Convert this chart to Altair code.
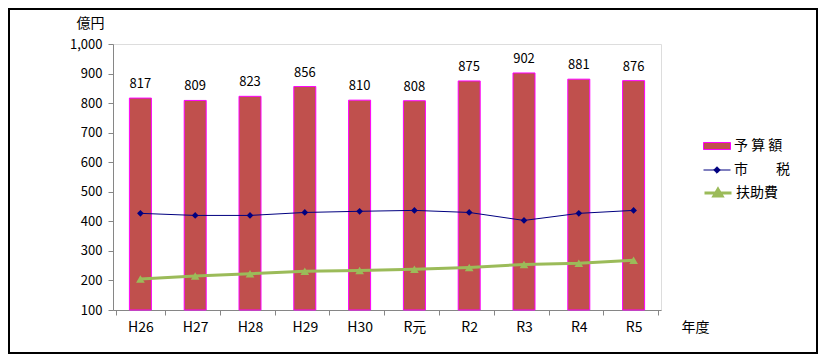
import altair as alt
import pandas as pd

years = ["H26", "H27", "H28", "H29", "H30", "R元", "R2", "R3", "R4", "R5"]
budget = [817, 809, 823, 856, 810, 808, 875, 902, 881, 876]
city_tax = [427, 420, 420, 430, 434, 437, 430, 403, 427, 437]
assist = [205, 215, 223, 231, 234, 238, 244, 254, 258, 268]
y_ticks = [100, 200, 300, 400, 500, 600, 700, 800, 900, 1000]
series = ["予 算 額", "市　　税", "扶助費"]

df = pd.DataFrame({"year": years, "budget": budget, "tax": city_tax, "assist": assist})

FONT = "Noto Sans CJK JP"
W, H = 548, 266

x_axis = alt.Axis(
    title="年度", titleX=582, titleY=17, titleAlign="center", titleBaseline="middle",
    titleFontSize=14, titleFontWeight="normal", titleFont=FONT,
    labelAngle=0, labelFontSize=14, labelFont=FONT, labelPadding=5,
    tickBand="extent", tickSize=5, tickColor="#868686", domainColor="#868686",
    labelColor="black",
)
y_scale = alt.Scale(domain=[100, 1000], nice=False, zero=False)
y_axis = alt.Axis(
    values=y_ticks, format=",.0f", grid=False, labelOverlap=False,
    title="億円", titleAngle=0, titleX=-23, titleY=-21, titleAlign="center",
    titleBaseline="middle", titleFontSize=14, titleFontWeight="normal", titleFont=FONT,
    labelFontSize=13, labelFont=FONT, labelPadding=6, labelColor="black",
    tickSize=5, tickColor="#868686", domainColor="#868686",
)


def X():
    return alt.X("year:N", sort=years, axis=x_axis)


def Y(field):
    return alt.Y(field, type="quantitative", scale=y_scale, axis=y_axis)


def legend(y, path, stroke, fill, sw):
    return alt.Legend(
        orient="none", legendX=590, legendY=y, title=None, padding=0,
        symbolType=path, symbolSize=729,
        symbolStrokeColor=stroke, symbolFillColor=fill, symbolStrokeWidth=sw,
        labelFontSize=14, labelFont=FONT, labelOffset=3, labelColor="black",
    )


bars = alt.Chart(df).transform_calculate(s=f"'{series[0]}'").mark_bar(
    size=22, stroke="#FF00FF", strokeWidth=1
).encode(
    x=X(),
    y=Y("budget"),
    y2=alt.datum(100),
    color=alt.Color(
        "s:N",
        scale=alt.Scale(domain=[series[0]], range=["#C0504D"]),
        legend=legend(88, "M-1,-0.26H1V0.26H-1Z", "#FF00FF", "#C0504D", 1),
    ),
)

labels = alt.Chart(df).mark_text(
    baseline="alphabetic", dy=-10, fontSize=13, font=FONT, color="black"
).encode(
    x=X(),
    y=Y("budget"),
    text=alt.Text("budget:Q"),
)

tax_line = alt.Chart(df).transform_calculate(s=f"'{series[1]}'").mark_line(
    strokeWidth=1,
    point=alt.OverlayMarkDef(shape="diamond", size=45, filled=True, color="#000080"),
).encode(
    x=X(),
    y=Y("tax"),
    color=alt.Color(
        "s:N",
        scale=alt.Scale(domain=[series[1]], range=["#000080"]),
        legend=legend(112, "M-1,0H1M0,-0.24L0.24,0L0,0.24L-0.24,0Z", "#000080", "#000080", 1),
    ),
)

assist_line = alt.Chart(df).transform_calculate(s=f"'{series[2]}'").mark_line(
    strokeWidth=3,
    point=alt.OverlayMarkDef(shape="triangle-up", size=75, filled=True, color="#9BBB59"),
).encode(
    x=X(),
    y=Y("assist"),
    color=alt.Color(
        "s:N",
        scale=alt.Scale(domain=[series[2]], range=["#9BBB59"]),
        legend=legend(134, "M-1,0H1M0,-0.28L0.3,0.22L-0.3,0.22Z", "#9BBB59", "#9BBB59", 3),
    ),
)

frame = alt.Chart(pd.DataFrame({"k": [0]})).mark_rect(
    fill="transparent", stroke="black", strokeWidth=2
).encode(
    x=alt.value(-104), x2=alt.value(704), y=alt.value(-35), y2=alt.value(309)
)

chart = alt.layer(bars, labels, tax_line, assist_line, frame).resolve_scale(
    color="independent"
).properties(
    width=W, height=H,
    autosize=alt.AutoSizeParams(type="none"),
    padding={"left": 105, "top": 36, "right": 157, "bottom": 44},
).configure_view(stroke="#868686", strokeWidth=1).configure(font=FONT)

chart.save("out.html", embed_options={"renderer": "svg", "actions": False})
